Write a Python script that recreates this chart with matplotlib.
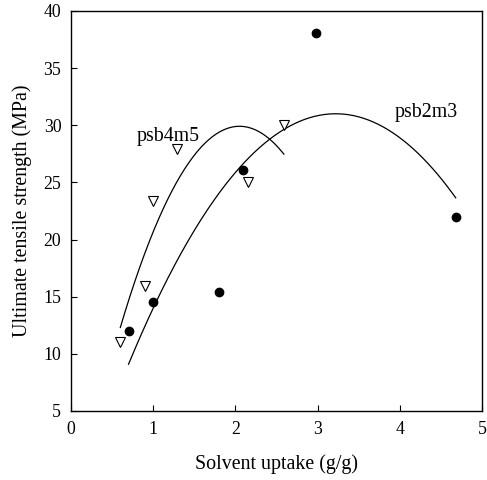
import numpy as np
import matplotlib
matplotlib.use("Agg")
import matplotlib.pyplot as plt

# psb2m3 (filled circles)
psb2m3_x = [0.70, 1.00, 1.80, 2.09, 2.98, 4.68]
psb2m3_y = [12.0, 14.5, 15.4, 26.1, 38.1, 22.0]
# psb4m5 (open triangles)
psb4m5_x = [0.59, 0.90, 1.00, 1.29, 2.15, 2.59]
psb4m5_y = [11.0, 15.9, 23.4, 27.95, 25.0, 30.0]

# quadratic fit coefficients
fit_psb2m3 = [-3.45, 22.22, -4.77]
fit_psb2m3_range = (0.70, 4.68)
fit_psb4m5 = [-8.37, 34.32, -5.27]
fit_psb4m5_range = (0.60, 2.59)

x_ticks = [0, 1, 2, 3, 4, 5]
y_ticks = [5, 10, 15, 20, 25, 30, 35, 40]

plt.rcParams["font.family"] = ["Liberation Serif", "DejaVu Serif"]

fig = plt.figure(figsize=(4.87, 4.80), dpi=100)
ax = fig.add_axes([0.1458, 0.1438, 0.8439, 0.8333])

for coef, (x0, x1) in [(fit_psb2m3, fit_psb2m3_range), (fit_psb4m5, fit_psb4m5_range)]:
    xs = np.linspace(x0, x1, 200)
    ax.plot(xs, np.polyval(coef, xs), color="black", linewidth=0.9)

ax.plot(psb2m3_x, psb2m3_y, "o", color="black", markersize=6, linestyle="none")
ax.plot(psb4m5_x, psb4m5_y, "v", markerfacecolor="white", markeredgecolor="black",
        markeredgewidth=0.8, markersize=6.5, linestyle="none")

ax.text(1.18, 29.0, "psb4m5", fontsize=14.3, ha="center", va="center")
ax.text(4.32, 31.1, "psb2m3", fontsize=14.3, ha="center", va="center")

ax.set_xlim(0, 5)
ax.set_ylim(5, 40)
ax.set_xticks(x_ticks)
ax.set_yticks(y_ticks)
ax.tick_params(direction="in", length=4, width=0.8, labelsize=12.8, pad=7)
ax.set_xlabel("Solvent uptake (g/g)", fontsize=14.4, labelpad=12)
ax.set_ylabel("Ultimate tensile strength (MPa)", fontsize=14.4, labelpad=8)
for s in ax.spines.values():
    s.set_linewidth(1.0)

fig.savefig("out.png", dpi=100)
